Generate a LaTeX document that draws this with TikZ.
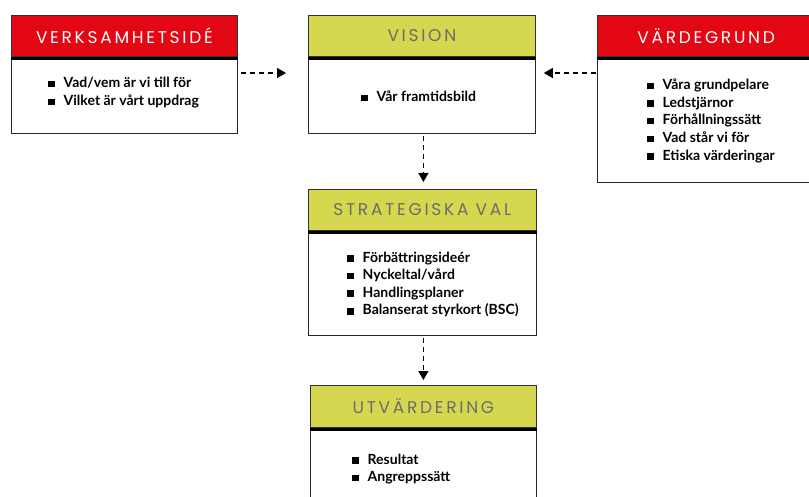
\documentclass[tikz,border=0pt]{standalone}
\usepackage{fontspec}
\setmainfont{Lato}
\newfontfamily\headfont[LetterSpace=16]{Poppins}
\usetikzlibrary{arrows.meta,calc}
\definecolor{vred}{HTML}{E30613}
\definecolor{vgreen}{HTML}{D5D84F}
\definecolor{vgray}{HTML}{6B6C6E}
\newcommand\sq{\rule[0.5pt]{6.5pt}{6.5pt}\hspace{9pt}}
\begin{document}
\begin{tikzpicture}[x=1pt,y=-1pt,
  hdr/.style={draw=black!80, line width=0.8pt, anchor=north west, inner sep=0pt,
    font=\headfont\fontsize{17}{17}\selectfont},
  redh/.style={hdr, fill=vred, text=white},
  grnh/.style={hdr, fill=vgreen, text=vgray},
  body/.style={draw=black!85, line width=0.8pt, fill=white, anchor=north west, inner sep=0pt},
  items/.style={anchor=base west, inner sep=0pt, align=left,
    font=\fontsize{14}{17.6}\selectfont\bfseries},
  sep/.style={line width=3pt, black},
  conn/.style={dash pattern=on 5pt off 4pt, line width=1.4pt,
    -{Triangle[length=9pt,width=10pt]}}]
\useasboundingbox (0,0) rectangle (809,497);
% VERKSAMHETSIDE
\node[body, minimum width=226pt, minimum height=77pt] (verkb) at (11,56) {};
\node[redh, minimum width=226pt, minimum height=41pt] (verkh) at (11,15) {VERKSAMHETSIDÉ};
\draw[sep] ([yshift=-1.5pt]verkh.south west) -- ([yshift=-1.5pt]verkh.south east);
\node[items] (verki) at (48,105.6) {\sq Vad/vem är vi till för\\ \sq Vilket är vårt uppdrag};
% VISION
\node[body, minimum width=227pt, minimum height=77pt] (visb) at (308,56) {};
\node[grnh, minimum width=227pt, minimum height=41pt] (vish) at (308,15) {VISION};
\draw[sep] ([yshift=-1.5pt]vish.south west) -- ([yshift=-1.5pt]vish.south east);
\node[items] (visi) at (361,102) {\sq Vår framtidsbild};
% VARDEGRUND
\node[body, minimum width=220pt, minimum height=126pt] (vardb) at (597,56) {};
\node[redh, minimum width=220pt, minimum height=41pt, text width=212pt, align=left] (vardh) at (597,15) {\hspace{36pt}VÄRDEGRUND};
\draw[sep] ([yshift=-1.5pt]vardh.south west) -- ([yshift=-1.5pt]vardh.south east);
\node[items] (vardi) at (647,160.2) {\sq Våra grundpelare\\ \sq Ledstjärnor\\ \sq Förhållningssätt\\ \sq Vad står vi för\\ \sq Etiska värderingar};
% STRATEGISKA VAL
\node[body, minimum width=228pt, minimum height=104pt] (stratb) at (308,231) {};
\node[grnh, minimum width=228pt, minimum height=41pt] (strath) at (308,189) {STRATEGISKA VAL};
\draw[sep] ([yshift=-1.5pt]strath.south west) -- ([yshift=-1.5pt]strath.south east);
\node[items] (strati) at (347,315) {\sq Förbättringsideér\\ \sq Nyckeltal/vård\\ \sq Handlingsplaner\\ \sq Balanserat styrkort (BSC)};
% UTVARDERING
\node[body, minimum width=226pt, minimum height=80pt] (utvb) at (310,427) {};
\node[grnh, minimum width=226pt, minimum height=42pt] (utvh) at (310,385) {UTVÄRDERING};
\draw[sep] ([yshift=-1.5pt]utvh.south west) -- ([yshift=-1.5pt]utvh.south east);
\node[items] (utvi) at (352,481.6) {\sq Resultat\\ \sq Angreppssätt};
% connectors
\draw[conn] ($(verkb.north east)+(3,17)$) -- ($(visb.north west)+(-22,17)$);
\draw[conn] ($(vardb.north west)+(-1,17)$) -- ($(visb.north east)+(8,17)$);
\draw[conn] ($(visb.south)+(1.5,2)$) -- ($(strath.north)+(1,-7)$);
\draw[conn] ($(stratb.south)+(1,2)$) -- ($(utvh.north)+(0,-5)$);
\end{tikzpicture}
\end{document}
